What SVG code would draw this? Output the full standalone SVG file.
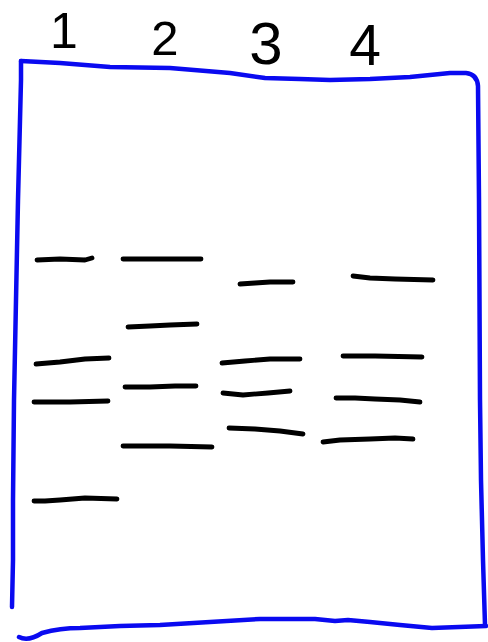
<svg xmlns="http://www.w3.org/2000/svg" width="488" height="642" viewBox="0 0 488 642">
<style>
.gel{fill:none;stroke:#0a0af0;stroke-width:4.5;stroke-linecap:round;stroke-linejoin:round}
.band{fill:none;stroke:#000;stroke-width:4.8;stroke-linecap:round;stroke-linejoin:round}
.lbl{font-family:"Liberation Sans",Arial,sans-serif;fill:#000;text-anchor:middle}
</style>
<rect width="488" height="642" fill="#fff"/>
<g id="labels">
<text class="lbl" x="64" y="48" font-size="50">1</text>
<text class="lbl" x="165" y="55" font-size="49">2</text>
<text class="lbl" x="266" y="64" font-size="60">3</text>
<text class="lbl" x="365" y="65" font-size="57">4</text>
</g>
<g id="gel">
<path class="gel" d="M21,61 L60,63 L110,67 L170,68 L230,73 L265,78 L300,79 L330,80 L370,79 L410,77 L450,73 L466,73 Q477,74 478,86 L479,200 L480,400 L481,480 L483,560 L485,625"/>
<path class="gel" d="M21,61 L21,80 L18,200 L16,300 L14,400 L13,500 L13,560 L12,607"/>
<path class="gel" d="M19,637 Q28,642 42,633 Q60,628 80,628 L120,626 L160,625 L210,622 L260,619 L280,619 L315,619 L335,621 L348,620 L370,622 L400,625 L432,628 L486,626"/>
</g>
<g id="bands">
<path class="band" d="M37,260 L60,259 L85,260 L92,258"/>
<path class="band" d="M123,259 L150,259 L175,259 L201,259" stroke-width="5.5"/>
<path class="band" d="M240,284 L255,283 L270,282 L293,282"/>
<path class="band" d="M353,276 L370,278 L395,279 L433,280"/>
<path class="band" d="M128,327 L150,326 L170,325 L197,324"/>
<path class="band" d="M36,364 L60,362 L85,359 L109,358"/>
<path class="band" d="M34,402 L70,402 L108,401"/>
<path class="band" d="M34,501 L45,501 L60,500 L85,498 L117,499"/>
<path class="band" d="M125,387 L150,387 L175,386 L196,386"/>
<path class="band" d="M123,446 L170,446 L212,447"/>
<path class="band" d="M222,363 L245,361 L270,359 L300,359"/>
<path class="band" d="M223,393 L243,395 L268,393 L290,391"/>
<path class="band" d="M229,428 L255,429 L280,431 L303,434"/>
<path class="band" d="M343,356 L375,356 L422,357"/>
<path class="band" d="M336,398 L355,398 L375,399 L400,400 L420,402"/>
<path class="band" d="M323,442 L340,440 L370,439 L395,438 L413,439"/>
</g>
</svg>
